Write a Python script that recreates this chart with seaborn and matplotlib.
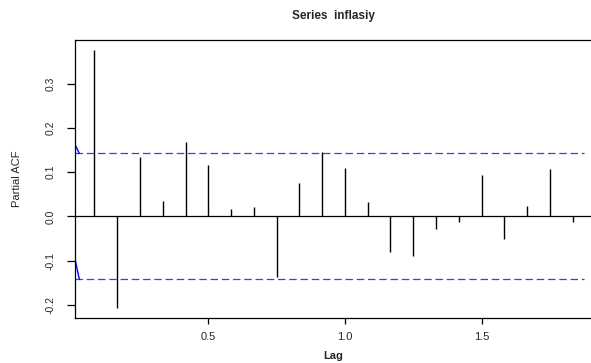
#!/usr/bin/env python3

import numpy as np
import seaborn as sns
from matplotlib import pyplot as plt
from matplotlib import font_manager

# lag index (months) and sample partial autocorrelations of 'inflasiy'
lag_index = [1, 2, 3, 4, 5, 6, 7, 8, 9, 10, 11,
             12, 13, 14, 15, 16, 17, 18, 19, 20, 21, 22]
frequency = 12
pacf_values = [0.375, -0.207, 0.135, 0.035, 0.168, 0.115, 0.016, 0.021,
               -0.137, 0.075, 0.145, 0.110, 0.032, -0.080, -0.089, -0.029,
               -0.013, 0.093, -0.051, 0.023, 0.107, -0.013]
conf_limit = 0.142
x_ticks = [0.5, 1.0, 1.5]
y_ticks = [-0.2, -0.1, 0.0, 0.1, 0.2, 0.3]

lags = np.array(lag_index) / frequency
pacf = np.array(pacf_values)

sns.set_theme(style="ticks")
plt.rcParams["font.family"] = ["Liberation Sans", "DejaVu Sans"]

# the y axis texts in the original look condensed
names = {f.name for f in font_manager.fontManager.ttflist}
narrow = ["Liberation Sans Narrow", "Liberation Sans", "DejaVu Sans"]
if "Liberation Sans Narrow" not in names:
    narrow = narrow[1:]

fig = plt.figure(figsize=(5.91, 3.63), dpi=100)
ax = fig.add_axes([0.1274, 0.1231, 0.874, 0.7667])

# R-style axis range: data range extended by 4%
xr = lags.max() - lags.min()
ax.set_xlim(lags.min() - 0.04 * xr, lags.max() + 0.04 * xr)
lo = min(pacf.min(), -conf_limit)
hi = max(pacf.max(), conf_limit)
ax.set_ylim(lo - 0.04 * (hi - lo), hi + 0.04 * (hi - lo))

ax.vlines(lags, 0, pacf, color="black", linewidth=1.0)
ax.axhline(0, color="black", linewidth=0.9)
for c in (conf_limit, -conf_limit):
    ax.axhline(c, color="#3b3bff", linewidth=0.9, linestyle=(0, (6, 3)),
               xmax=0.985)

# little leftover blue strokes at the left edge
x0 = ax.get_xlim()[0]
ax.plot([x0, 0.028], [0.161, conf_limit], color="blue", linewidth=1.0)
ax.plot([x0, 0.028], [-0.099, -conf_limit], color="blue", linewidth=1.0)

ax.set_xticks(x_ticks)
ax.set_xticklabels(["%.1f" % t for t in x_ticks], fontsize=8)
ax.set_yticks(y_ticks)
ax.set_yticklabels(["%.1f" % t for t in y_ticks], fontsize=7.5,
                   rotation=90, va="center", family=narrow)
ax.tick_params(axis="x", length=4, width=0.9, color="black", pad=6)
ax.tick_params(axis="y", length=6, width=0.9, color="black", pad=8)
for s in ax.spines.values():
    s.set_color("black")
    s.set_linewidth(0.9)

ax.set_xlabel("Lag", fontsize=8, fontweight="bold", labelpad=6)
ax.set_ylabel("Partial ACF", fontsize=8, labelpad=17, family=narrow)
ax.set_title("Series  inflasiy", fontsize=8.5, fontweight="bold", pad=15)

fig.savefig("out.png", dpi=100)
